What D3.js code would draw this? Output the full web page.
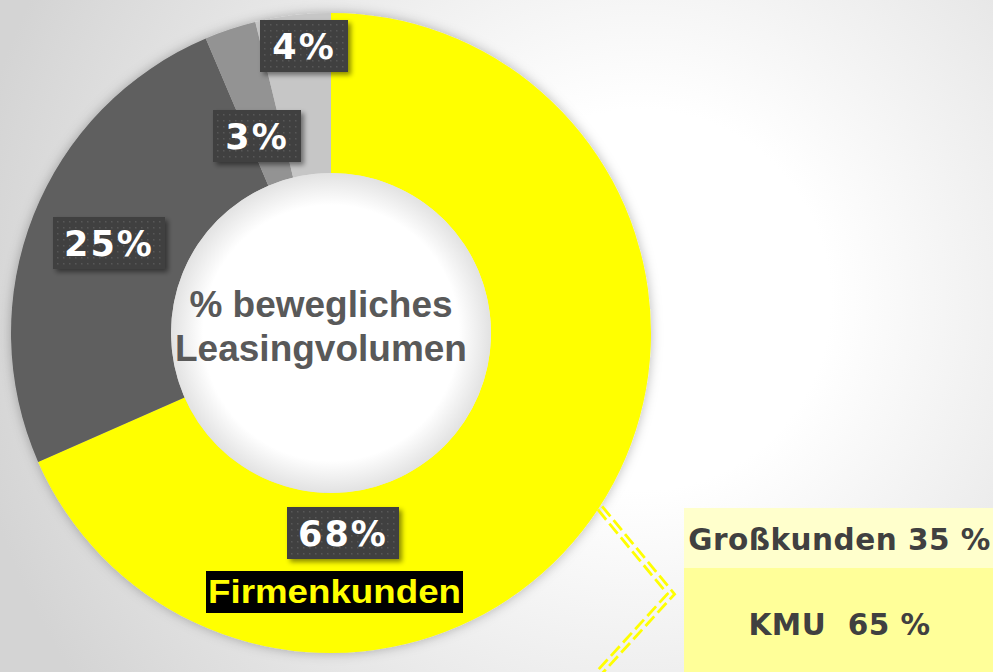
<!DOCTYPE html>
<html>
<head>
<meta charset="utf-8">
<script src="https://cdn.jsdelivr.net/npm/d3@7"></script>
<style>
  html, body { margin: 0; padding: 0; overflow: hidden; }
  svg { display: block; }
</style>
</head>
<body>
<svg id="chart" width="993" height="672"></svg>
<script>
// Daten ---------------------------------------------------------------
const segments = ["Firmenkunden", "Segment B", "Segment C", "Segment D"];
const shares = [68.4, 25.2, 2.6, 3.8];
const sliceColors = ["#ffff00", "#5f5f5f", "#939393", "#c6c6c6"];
const centerTitle = ["% bewegliches", "Leasingvolumen"];
const splitLabels = ["Großkunden 35 %", "KMU  65 %"];
// Positionen der Datenbeschriftungen (wie im Original manuell verschoben)
const labelPos = [[343, 533], [109, 243], [257, 136], [304, 46]];

const W = 993, H = 672;
const cx = 331, cy = 333, outerR = 320, innerR = 160;

const svg = d3.select("#chart");
const defs = svg.append("defs");

// Hintergrund-Verlauf
const bg = defs.append("radialGradient").attr("id", "bgGrad")
  .attr("gradientUnits", "userSpaceOnUse")
  .attr("cx", 640).attr("cy", 300).attr("r", 680);
bg.append("stop").attr("offset", "0").attr("stop-color", "#ffffff");
bg.append("stop").attr("offset", "0.28").attr("stop-color", "#ffffff");
bg.append("stop").attr("offset", "1").attr("stop-color", "#d4d4d4");

// Loch in der Mitte
const hole = defs.append("radialGradient").attr("id", "holeGrad");
hole.append("stop").attr("offset", "0").attr("stop-color", "#ffffff");
hole.append("stop").attr("offset", "0.8").attr("stop-color", "#ffffff");
hole.append("stop").attr("offset", "1").attr("stop-color", "#e2e2e2");

// Schatten
defs.append("filter").attr("id", "ringShadow")
  .attr("x", "-20%").attr("y", "-20%").attr("width", "140%").attr("height", "140%")
  .append("feDropShadow").attr("dx", 0).attr("dy", 0)
  .attr("stdDeviation", 6).attr("flood-color", "#000").attr("flood-opacity", 0.28);

defs.append("filter").attr("id", "boxShadow")
  .attr("x", "-20%").attr("y", "-20%").attr("width", "150%").attr("height", "150%")
  .append("feDropShadow").attr("dx", 3).attr("dy", 3)
  .attr("stdDeviation", 2.5).attr("flood-color", "#000").attr("flood-opacity", 0.45);

// Punktmuster der Beschriftungsboxen
const pat = defs.append("pattern").attr("id", "dots")
  .attr("patternUnits", "userSpaceOnUse").attr("width", 6).attr("height", 6);
pat.append("rect").attr("width", 6).attr("height", 6).attr("fill", "#404040");
pat.append("rect").attr("x", 2).attr("y", 2).attr("width", 1.5).attr("height", 1.5).attr("fill", "#585858");

svg.append("rect").attr("width", W).attr("height", H).attr("fill", "url(#bgGrad)");

// Donut ---------------------------------------------------------------
const pie = d3.pie().sort(null).value(d => d);
const arcs = pie(shares);
const arc = d3.arc().innerRadius(innerR).outerRadius(outerR);

const ring = svg.append("g")
  .attr("transform", `translate(${cx},${cy})`)
  .attr("filter", "url(#ringShadow)");

ring.selectAll("path.slice")
  .data(arcs)
  .join("path")
  .attr("class", "slice")
  .attr("d", arc)
  .attr("fill", (d, i) => sliceColors[i]);

svg.append("circle")
  .attr("cx", cx).attr("cy", cy).attr("r", innerR)
  .attr("fill", "url(#holeGrad)");

// Titel in der Mitte
svg.append("text")
  .attr("text-anchor", "middle")
  .attr("font-family", "'Liberation Sans', Arial, sans-serif")
  .attr("font-weight", "bold").attr("font-size", 37)
  .attr("fill", "#595959")
  .selectAll("tspan")
  .data(centerTitle)
  .join("tspan")
  .attr("x", cx - 10)
  .attr("y", (d, i) => 317 + i * 44)
  .text(d => d);

// Datenbeschriftungen
const fmt = d => Math.round(d) + "%";
const labels = svg.append("g");
arcs.forEach((a, i) => {
  const txt = fmt(a.data);
  const w = txt.length === 2 ? 88 : 112, h = 52;
  const [x, y] = labelPos[i];
  const g = labels.append("g").attr("transform", `translate(${x},${y})`);
  g.append("rect")
    .attr("x", -w / 2).attr("y", -h / 2).attr("width", w).attr("height", h)
    .attr("fill", "url(#dots)")
    .attr("filter", "url(#boxShadow)");
  g.append("text")
    .attr("text-anchor", "middle").attr("y", 13)
    .attr("font-family", "'DejaVu Sans', Verdana, sans-serif")
    .attr("font-weight", "bold").attr("font-size", 35)
    .attr("letter-spacing", 2)
    .attr("fill", "#ffffff")
    .text(txt);
});

// Kategorie-Beschriftung "Firmenkunden"
svg.append("rect")
  .attr("x", 206).attr("y", 571).attr("width", 257).attr("height", 42)
  .attr("fill", "#000");
svg.append("text")
  .attr("x", 208).attr("y", 603)
  .attr("textLength", 253).attr("lengthAdjust", "spacingAndGlyphs")
  .attr("font-family", "'Liberation Sans', Arial, sans-serif")
  .attr("font-weight", "bold").attr("font-size", 33)
  .attr("fill", "#ffff00")
  .text(segments[0]);

// Verbindungslinie (doppelt, gestrichelt)
const connector = [[600, 508], [671, 594], [598, 674]];
function offsetLine(pts, d) {
  const n = [];
  for (let i = 0; i < pts.length - 1; i++) {
    const dx = pts[i + 1][0] - pts[i][0], dy = pts[i + 1][1] - pts[i][1];
    const l = Math.hypot(dx, dy);
    n.push([dy / l, -dx / l]);
  }
  return pts.map((p, i) => {
    let v;
    if (i === 0) v = n[0];
    else if (i === pts.length - 1) v = n[n.length - 1];
    else {
      const a = n[i - 1], b = n[i];
      const k = 1 + a[0] * b[0] + a[1] * b[1];
      v = [(a[0] + b[0]) / k, (a[1] + b[1]) / k];
    }
    return [p[0] + v[0] * d, p[1] + v[1] * d];
  });
}
const line = d3.line();
[-2.7, 2.7].forEach(off => {
  svg.append("path")
    .attr("d", line(offsetLine(connector, off)))
    .attr("fill", "none")
    .attr("stroke", "#ffff00")
    .attr("stroke-width", 2.8)
    .attr("stroke-dasharray", "13 5");
});

// Aufteilung Firmenkunden
const boxX = 684, boxW = W - 684;
const boxY = [508, 568], boxH = [60, 104];
const boxFill = ["#ffffcc", "#ffff99"];
const baseY = [550, 635];
const split = svg.append("g");
splitLabels.forEach((t, i) => {
  split.append("rect")
    .attr("x", boxX).attr("y", boxY[i])
    .attr("width", boxW).attr("height", boxH[i])
    .attr("fill", boxFill[i]);
  split.append("text")
    .attr("x", boxX + boxW / 2 + 1).attr("y", baseY[i])
    .attr("text-anchor", "middle")
    .attr("font-family", "'DejaVu Sans', Verdana, sans-serif")
    .attr("font-weight", "bold").attr("font-size", 29.5)
    .attr("letter-spacing", 0.5)
    .attr("fill", "#404040")
    .style("white-space", "pre")
    .text(t);
});
</script>
</body>
</html>
